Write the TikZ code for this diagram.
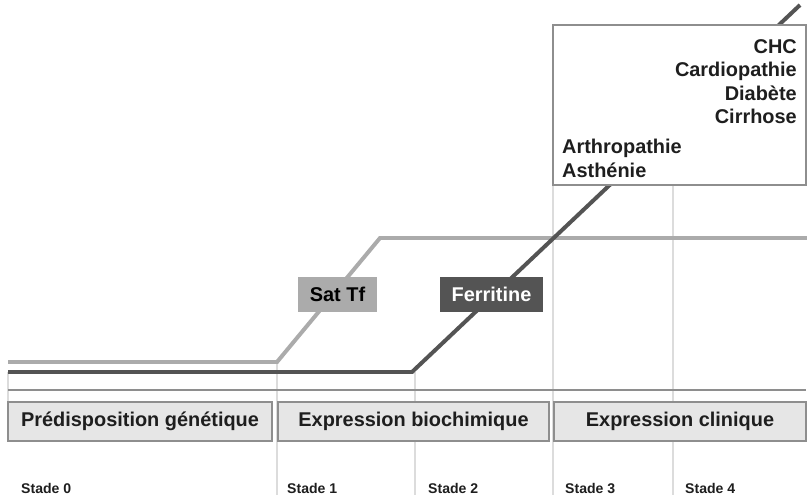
\documentclass[tikz,border=0pt]{standalone}
\usepackage{fontspec}
\setmainfont{Liberation Sans}
\usepackage{tikz}
\usetikzlibrary{calc}

\definecolor{satgray}{HTML}{ABABAB}
\definecolor{ferrgray}{HTML}{545454}
\definecolor{boxfill}{HTML}{E6E6E6}
\definecolor{boxline}{HTML}{8E8E8E}
\definecolor{gridline}{HTML}{DCDCDC}
\definecolor{textdark}{HTML}{1E1E1E}

\begin{document}
\begin{tikzpicture}[
        x=0.03cm, y=-0.03cm,
        font=\bfseries\fontsize{17}{20}\selectfont,
        text=textdark,
        courbe/.style={line width=3.4pt, line join=miter},
        grille/.style={gridline, line width=1.2pt},
        stadebox/.style={draw=boxline, line width=1.6pt, fill=boxfill},
        etiquette/.style={inner sep=0pt, minimum width=79*0.03cm, minimum height=35*0.03cm},
        signe/.style={inner sep=0pt},
        stade/.style={anchor=base west, inner sep=0pt, font=\bfseries\fontsize{12}{14}\selectfont}
    ]
        \useasboundingbox (0,0) rectangle (807,495);

        % --- Lignes verticales des stades ---
        \draw[grille] (8,372) -- (8,402);
        \draw[grille] (277,362) -- (277,495);
        \draw[grille] (415,372) -- (415,495);
        \draw[grille] (553,185) -- (553,495);
        \draw[grille] (673,185) -- (673,495);

        % --- Axe horizontal ---
        \draw[boxline, line width=1.6pt] (8,390) -- (806,390);

        % --- Courbe de la saturation de la transferrine ---
        \coordinate (S0) at (8,362);
        \coordinate (S1) at (277,362);
        \coordinate (S2) at (380,238);
        \coordinate (S3) at (807,238);
        \draw[courbe, satgray] (S0) -- (S1) -- (S2) -- (S3);

        % --- Courbe de la ferritine ---
        \coordinate (F0) at (8,372);
        \coordinate (F1) at (412,372);
        \coordinate (F2) at (800,5);
        \draw[courbe, ferrgray] (F0) -- (F1) -- (F2);

        % --- Etiquettes des courbes ---
        \node[etiquette, fill=satgray, text=black] (sattf) at (337.5,294.5) {Sat Tf};
        \node[etiquette, fill=ferrgray, text=white, minimum width=103*0.03cm] (ferritine) at (491.5,294.5) {Ferritine};

        % --- Encadre des manifestations cliniques ---
        \draw[boxline, line width=1.6pt, fill=white] (553,25) rectangle (806,185);
        \node[signe, anchor=base east] (chc) at (797,53) {CHC};
        \node[signe, anchor=base east] (cardio) at (797,76.5) {Cardiopathie};
        \node[signe, anchor=base east] (diabete) at (797,100) {Diabète};
        \node[signe, anchor=base east] (cirrhose) at (797,123.5) {Cirrhose};
        \node[signe, anchor=base west] (arthro) at (562,153.5) {Arthropathie};
        \node[signe, anchor=base west] (asthenie) at (562,177) {Asthénie};

        % --- Phases ---
        \draw[stadebox] (8,402) rectangle (272,441);
        \node (predisp) at (140,421.5) {Prédisposition génétique};
        \draw[stadebox] (278,402) rectangle (549,441);
        \node (biochim) at (413.5,421.5) {Expression biochimique};
        \draw[stadebox] (554,402) rectangle (806,441);
        \node (clinique) at (680,421.5) {Expression clinique};

        % --- Stades ---
        \node[stade] (st0) at (21,493) {Stade 0};
        \node[stade] (st1) at (287,493) {Stade 1};
        \node[stade] (st2) at (428,493) {Stade 2};
        \node[stade] (st3) at (565,493) {Stade 3};
        \node[stade] (st4) at (685,493) {Stade 4};

    \end{tikzpicture}
\end{document}
